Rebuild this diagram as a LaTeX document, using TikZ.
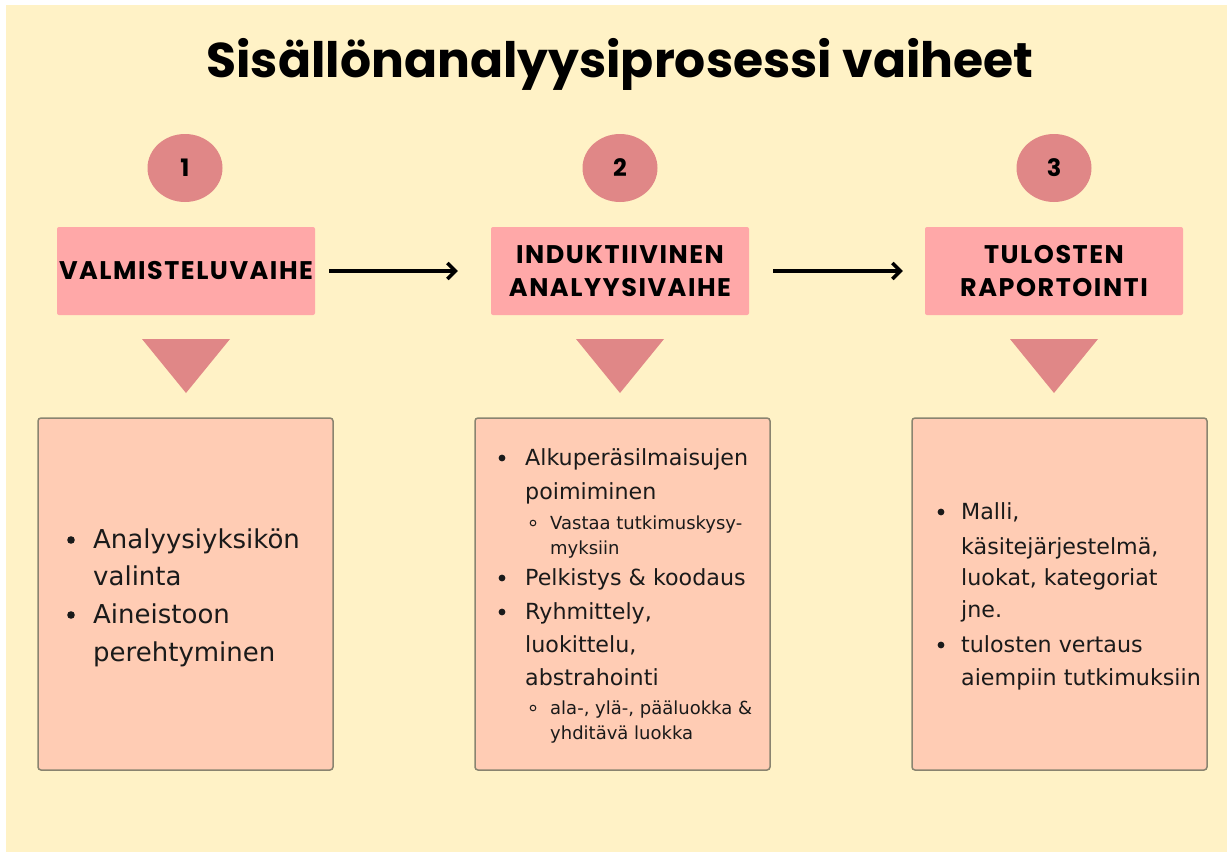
\documentclass[tikz,border=0pt]{standalone}
\usepackage{fontspec}
\setmainfont{DejaVu Sans}
\newfontfamily\titlefont{Poppins}
\newfontfamily\headfontfam{Poppins}[LetterSpace=6]
\usetikzlibrary{shapes.geometric,arrows.meta}
\definecolor{bg}{HTML}{FFF2C6}
\definecolor{hpink}{HTML}{FFA8A8}
\definecolor{cpink}{HTML}{E08787}
\definecolor{cbody}{HTML}{FFCCB4}
\definecolor{cborder}{HTML}{8A8470}
\definecolor{tcol}{HTML}{1A1A1A}
\begin{document}
\begin{tikzpicture}[x=1pt,y=-1pt,
  hbox/.style={fill=hpink, rounded corners=2pt, minimum width=258pt, minimum height=88pt, inner sep=0pt, align=center, font=\headfontfam\bfseries\fontsize{25.5}{33}\selectfont, text=black},
  num/.style={ellipse, fill=cpink, minimum width=75pt, minimum height=68pt, inner sep=0pt, font=\titlefont\bfseries\fontsize{24}{28}\selectfont},
  cbox/.style={fill=cbody, draw=cborder, line width=1.5pt, rounded corners=3pt, minimum width=295pt, minimum height=352pt, inner sep=0pt},
  tri/.style={fill=cpink},
  arr/.style={line width=3.5pt, -{Straight Barb[length=8pt,width=16pt]}},
  big/.style={anchor=base west, inner sep=0pt, text=tcol, font=\fontsize{26}{30}\selectfont},
  mid/.style={anchor=base west, inner sep=0pt, text=tcol, font=\fontsize{22.2}{25}\selectfont},
  small/.style={anchor=base west, inner sep=0pt, text=tcol, font=\fontsize{18}{20}\selectfont}
]
\useasboundingbox (0,0) rectangle (1227,852);
\fill[white] (0,0) rectangle (1227,852);
\fill[bg] (6,5) rectangle (1227,852);

\node[font=\titlefont\bfseries\fontsize{48.8}{58}\selectfont, text=black] (title) at (620,64) {Sisällönanalyysiprosessi vaiheet};

% numbers
\node[num] (n1) at (185,168) {1};
\node[num] (n2) at (620,168) {2};
\node[num] (n3) at (1054,168) {3};

% header boxes
\node[hbox] (h1) at (186,271) {VALMISTELUVAIHE};
\node[hbox] (h2) at (620,271) {INDUKTIIVINEN\\ANALYYSIVAIHE};
\node[hbox] (h3) at (1054,271) {TULOSTEN\\RAPORTOINTI};

\draw[arr, shorten <=14pt, shorten >=33pt] (h1.east) -- (h2.west);
\draw[arr, shorten <=24pt, shorten >=22pt] (h2.east) -- (h3.west);

% triangles
\fill[tri] (142,339) -- (230,339) -- (186,393) -- cycle;
\fill[tri] (576,339) -- (664,339) -- (620,393) -- cycle;
\fill[tri] (1010,339) -- (1098,339) -- (1054,393) -- cycle;

% content boxes
\node[cbox] (c1) at (185.5,594) {};
\node[cbox] (c2) at (622.5,594) {};
\node[cbox] (c3) at (1059.5,594) {};

% box 1
\fill[tcol] (71,540) circle (3.8pt);
\fill[tcol] (71,615) circle (3.8pt);
\node[big] (t11) at (93,548) {Analyysiyksikön};
\node[big] (t12) at (93,585) {valinta};
\node[big] (t13) at (93,623) {Aineistoon};
\node[big] (t14) at (93,661) {perehtyminen};

% box 2
\fill[tcol] (502,458) circle (3.4pt);
\fill[tcol] (502,578) circle (3.4pt);
\fill[tcol] (502,612) circle (3.4pt);
\draw[tcol, line width=1pt] (533,523) circle (2.8pt);
\draw[tcol, line width=1pt] (533,708) circle (2.8pt);
\node[mid] (t21) at (525,465) {Alkuperäsilmaisujen};
\node[mid] (t22) at (525,499) {poimiminen};
\node[small] (t23) at (550,529) {Vastaa tutkimuskysy-};
\node[small] (t24) at (550,554) {myksiin};
\node[mid] (t25) at (525,585) {Pelkistys \& koodaus};
\node[mid] (t26) at (525,619) {Ryhmittely,};
\node[mid] (t27) at (525,652) {luokittelu,};
\node[mid] (t28) at (525,685) {abstrahointi};
\node[small] (t29) at (550,714) {ala-, ylä-, pääluokka \&};
\node[small] (t2a) at (550,739) {yhditävä luokka};

% box 3
\fill[tcol] (941,512) circle (3.4pt);
\fill[tcol] (941,645) circle (3.4pt);
\node[mid] (t31) at (961,519) {Malli,};
\node[mid] (t32) at (961,554) {käsitejärjestelmä,};
\node[mid] (t33) at (961,585) {luokat, kategoriat};
\node[mid] (t34) at (961,617) {jne.};
\node[mid] (t35) at (961,652) {tulosten vertaus};
\node[mid] (t36) at (961,685) {aiempiin tutkimuksiin};
\end{tikzpicture}
\end{document}
